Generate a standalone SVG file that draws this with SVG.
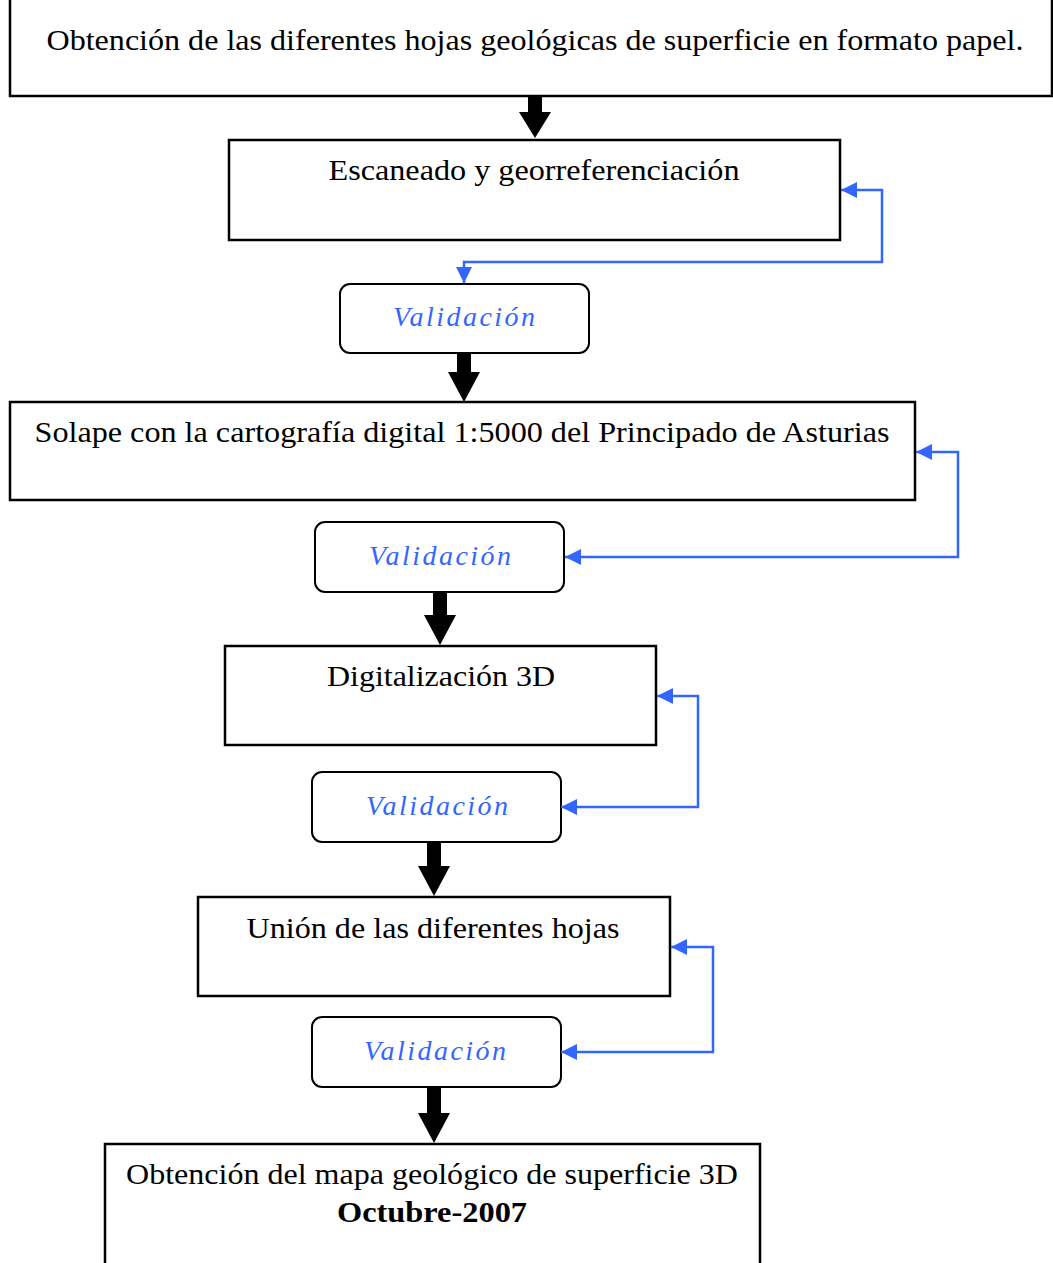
<svg xmlns="http://www.w3.org/2000/svg" width="1053" height="1263" viewBox="0 0 1053 1263">
<style>
.box{fill:#fff;stroke:#000;stroke-width:2.5}
.val{fill:#fff;stroke:#000;stroke-width:2}
.t{font-family:'Liberation Serif',serif;font-size:30px;fill:#000;text-anchor:middle}
.v{font-family:'Liberation Serif',serif;font-size:28px;font-style:italic;fill:#3366ff;text-anchor:middle}
.b{font-weight:bold}
.blue{fill:none;stroke:#3366ff;stroke-width:2.5}
.arr{fill:#000}
</style>
<defs>
<marker id="bh2" viewBox="0 0 16 16" refX="16" refY="8" markerWidth="16" markerHeight="16" orient="auto-start-reverse" markerUnits="userSpaceOnUse">
<path d="M0,0 L16,8 L0,16 Z" fill="#3366ff"/>
</marker>
</defs>
<rect width="1053" height="1263" fill="#fff"/>
<g id="n1"><rect class="box" x="10" y="-2" width="1042" height="98"/><text class="t" x="535" y="50" textLength="977" lengthAdjust="spacingAndGlyphs">Obtención de las diferentes hojas geológicas de superficie en formato papel.</text></g>
<g id="n2"><rect class="box" x="229" y="140" width="611" height="100"/><text class="t" x="534" y="180" textLength="411" lengthAdjust="spacingAndGlyphs">Escaneado y georreferenciación</text></g>
<g id="v1"><rect class="val" x="340" y="284" width="249" height="69" rx="10"/><text class="v" x="464" y="326" textLength="142" lengthAdjust="spacing">Validación</text></g>
<g id="n3"><rect class="box" x="10" y="402" width="905" height="98"/><text class="t" x="462" y="442" textLength="855" lengthAdjust="spacingAndGlyphs">Solape con la cartografía digital 1:5000 del Principado de Asturias</text></g>
<g id="v2"><rect class="val" x="315" y="522" width="249" height="70" rx="10"/><text class="v" x="440" y="565" textLength="142" lengthAdjust="spacing">Validación</text></g>
<g id="n4"><rect class="box" x="225" y="646" width="431" height="99"/><text class="t" x="441" y="686" textLength="228" lengthAdjust="spacingAndGlyphs">Digitalización 3D</text></g>
<g id="v3"><rect class="val" x="312" y="772" width="249" height="70" rx="10"/><text class="v" x="437" y="815" textLength="142" lengthAdjust="spacing">Validación</text></g>
<g id="n5"><rect class="box" x="198" y="897" width="472" height="99"/><text class="t" x="433" y="938" textLength="373" lengthAdjust="spacingAndGlyphs">Unión de las diferentes hojas</text></g>
<g id="v4"><rect class="val" x="312" y="1017" width="249" height="70" rx="10"/><text class="v" x="435" y="1060" textLength="142" lengthAdjust="spacing">Validación</text></g>
<g id="n6"><rect class="box" x="105" y="1144" width="655" height="125"/><text class="t" x="432" y="1184" textLength="612" lengthAdjust="spacingAndGlyphs">Obtención del mapa geológico de superficie 3D</text><text class="t b" x="432" y="1222" textLength="190" lengthAdjust="spacingAndGlyphs">Octubre-2007</text></g>
<g id="connectors">
<path class="arr" d="M528,96 H542 V112 H551 L535,138 L519,112 H528 Z"/>
<path class="arr" d="M457,353 H471 V372 H480 L464,402 L448,372 H457 Z"/>
<path class="arr" d="M433,592 H447 V615 H456 L440,645 L424,615 H433 Z"/>
<path class="arr" d="M427,842 H441 V866 H450 L434,896 L418,866 H427 Z"/>
<path class="arr" d="M427,1087 H441 V1113 H450 L434,1143 L418,1113 H427 Z"/>
<polyline class="blue" points="841,190 882,190 882,262 464,262 464,283" marker-start="url(#bh2)" marker-end="url(#bh2)"/>
<polyline class="blue" points="916,452 958,452 958,557 565,557" marker-start="url(#bh2)" marker-end="url(#bh2)"/>
<polyline class="blue" points="657,696 698,696 698,807 561,807" marker-start="url(#bh2)" marker-end="url(#bh2)"/>
<polyline class="blue" points="671,947 713,947 713,1052 561,1052" marker-start="url(#bh2)" marker-end="url(#bh2)"/>
</g>
</svg>
